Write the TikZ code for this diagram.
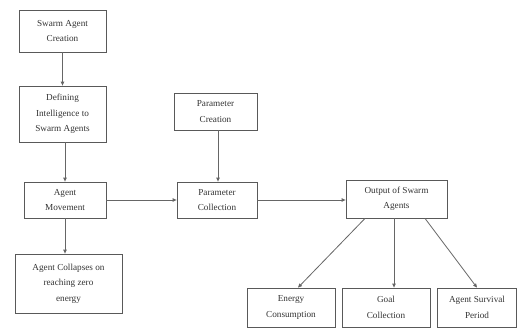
\documentclass[tikz,border=0pt]{standalone}
\usepackage{fontspec}
\setmainfont{Liberation Serif}
\usetikzlibrary{arrows.meta}
\begin{document}
\begin{tikzpicture}[x=1pt,y=-1pt,
  box/.style={draw=black!65,line width=0.8pt,align=center,inner sep=1pt,
    font=\fontsize{9.2}{15.5}\selectfont,text=black!80},
  conn/.style={draw=black!60,line width=0.8pt,-{Triangle[length=4pt,width=3.5pt]}}]
\useasboundingbox (0,0) rectangle (518,329);
\node[box,minimum width=87pt,minimum height=42pt] (create) at (62.5,31) {Swarm Agent\\Creation};
\node[box,minimum width=87pt,minimum height=56pt] (intel) at (62.5,114) {Defining\\Intelligence to\\Swarm Agents};
\node[box,minimum width=82pt,minimum height=36pt] (move) at (65,200) {Agent\\Movement};
\node[box,minimum width=107pt,minimum height=59pt] (collapse) at (68.5,283.5) {Agent Collapses on\\reaching zero\\energy};
\node[box,minimum width=83pt,minimum height=37pt] (pcreate) at (215.5,111.5) {Parameter\\Creation};
\node[box,minimum width=80pt,minimum height=36pt] (pcoll) at (217,200) {Parameter\\Collection};
\node[box,minimum width=101pt,minimum height=38pt] (out) at (396.5,199) {Output of Swarm\\Agents};
\node[box,minimum width=88pt,minimum height=39pt] (energy) at (291,307.5) {Energy\\Consumption};
\node[box,minimum width=88pt,minimum height=39pt] (goal) at (386,307.5) {Goal\\Collection};
\node[box,minimum width=79pt,minimum height=39pt] (surv) at (477,307.5) {Agent Survival\\Period};
\draw[conn] (create.south) -- (intel.north);
\draw[conn] (intel.south -| move.north) -- (move.north);
\draw[conn] (move.south) -- (move.south |- collapse.north);
\draw[conn] (pcreate.south -| 218,0) -- (pcoll.north -| 218,0);
\draw[conn] (move.east) -- (pcoll.west);
\draw[conn] (pcoll.east) -- (pcoll.east -| out.west);
\draw[conn] (out.south -| 365,0) -- (energy.north -| 298,0);
\draw[conn] (out.south -| 394,0) -- (goal.north -| 394,0);
\draw[conn] (out.south -| 425,0) -- (surv.north -| 477,0);
\end{tikzpicture}
\end{document}
